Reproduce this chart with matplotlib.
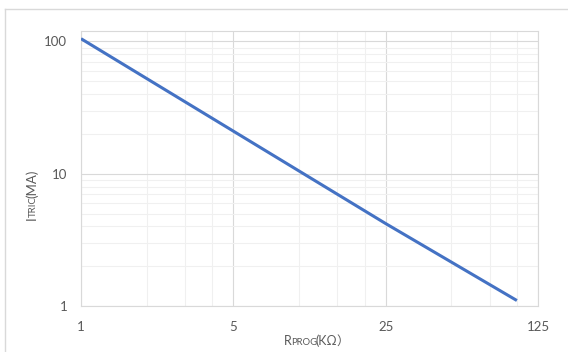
import matplotlib
matplotlib.use('Agg')
import matplotlib.pyplot as plt
import matplotlib.ticker as mtk
from matplotlib.lines import Line2D

plt.rcParams['font.family'] = ['Lato', 'Noto Sans CJK SC', 'DejaVu Sans']

# data
r_prog = [1, 5, 25, 100]
i_tric = [105, 21, 4.2, 1.1]
x_ticks = [1, 5, 25, 125]
x_labels = ['1', '5', '25', '125']
y_ticks = [1, 10, 100]
y_labels = ['1', '10', '100']

W, H = 568, 352
fig = plt.figure(figsize=(W / 100, H / 100), dpi=100)
ax = fig.add_axes([81 / W, 1 - 306 / H, (538 - 81) / W, (306 - 31) / H])

ax.plot(r_prog, i_tric, color='#4472C4', lw=2.2, solid_capstyle='butt', zorder=3)

ax.set_xscale('log', base=5)
ax.set_yscale('log', base=10)
ax.set_xlim(1, 125)
ax.set_ylim(1, 120)

ax.xaxis.set_major_locator(mtk.FixedLocator(x_ticks))
ax.xaxis.set_major_formatter(mtk.FixedFormatter(x_labels))
ax.xaxis.set_minor_locator(mtk.LogLocator(base=5, subs=[2, 3, 4]))
ax.xaxis.set_minor_formatter(mtk.NullFormatter())
ax.yaxis.set_major_locator(mtk.FixedLocator(y_ticks))
ax.yaxis.set_major_formatter(mtk.FixedFormatter(y_labels))
ax.yaxis.set_minor_locator(mtk.LogLocator(base=10, subs=range(2, 10)))
ax.yaxis.set_minor_formatter(mtk.NullFormatter())

ax.grid(True, which='major', color='#D9D9D9', lw=0.8)
ax.grid(True, which='minor', color='#F0F0F0', lw=0.8)
ax.set_axisbelow(True)
for s in ax.spines.values():
    s.set_color('#D9D9D9')
    s.set_linewidth(0.8)
ax.tick_params(which='both', length=0, colors='#595959', labelsize=9.5)
ax.tick_params(axis='x', pad=11)
ax.tick_params(axis='y', pad=10)

# outer chart border (top and left edges visible)
fig.add_artist(Line2D([5 / W, 1], [1 - 8.5 / H, 1 - 8.5 / H], transform=fig.transFigure, color='#D9D9D9', lw=1))
fig.add_artist(Line2D([5 / W, 5 / W], [0, 1 - 8.5 / H], transform=fig.transFigure, color='#D9D9D9', lw=1))

# axis titles with small caps pieces
fig.canvas.draw()
rend = fig.canvas.get_renderer()


def chain(pieces, x0, y0, rot):
    x, y = x0, y0
    for txt, size, fam in pieces:
        t = fig.text(x / W, 1 - y / H, txt, fontsize=size, color='#595959',
                     rotation=rot, ha='left', va='baseline',
                     rotation_mode='anchor', family=fam)
        bb = t.get_window_extent(rend)
        if rot == 0:
            x += bb.width - 1
        else:
            y -= bb.height - 1


lat = ['Lato', 'DejaVu Sans']
cjk = ['Noto Sans CJK SC']
chain([('R', 9, lat), ('PROG', 6.8, lat), ('(KΩ', 9, lat), ('）', 9, cjk)], 284, 345, 0)
chain([('I', 9.5, lat), ('TRIC', 7, lat), ('(MA)', 9.5, lat)], 36, 220, 90)

fig.savefig('out.png', dpi=100)
